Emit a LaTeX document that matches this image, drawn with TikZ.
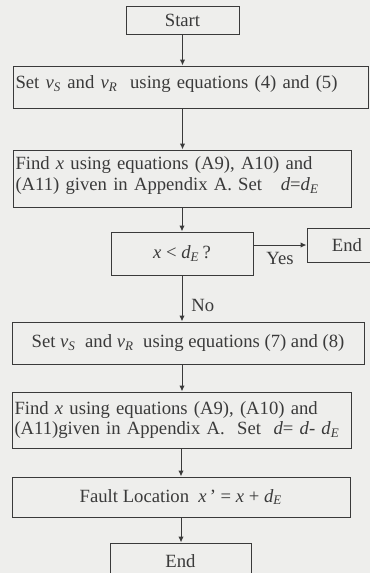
\documentclass[tikz,border=0pt]{standalone}
\usepackage{fontspec}
\setmainfont{Liberation Serif}
\usetikzlibrary{arrows.meta,positioning,calc}
\definecolor{cpaper}{HTML}{EEEEEC}
\definecolor{cink}{HTML}{3A3A3A}
\newcommand{\vsub}[2]{\textit{#1}\textsubscript{\textit{#2}}}
\tikzset{
  box/.style={draw=cink, line width=0.6pt, inner sep=1.5pt, font=\fontsize{11.2}{12.3}\selectfont, text=cink},
  cbox/.style={box, align=center},
  lbox/.style={box, align=left},
  pre/.style={-{Latex[length=3.6pt,width=3.2pt]}, line width=0.6pt, draw=cink},
  lbl/.style={font=\fontsize{11.2}{12.3}\selectfont, text=cink},
}
\begin{document}
\begin{tikzpicture}[x=0.6pt,y=-0.6pt]
\fill[cpaper] (0,0) rectangle (370,573);
\useasboundingbox (0,0) rectangle (370,573);
% first pass
\node[cbox, minimum width=67.8pt, minimum height=16.8pt] (start) at (182.5,20) {Start};
\node[lbox, text width=210pt, minimum height=25.2pt] (setone) at (190.5,87)
  {Set \vsub{v}{S} and \vsub{v}{R}\ \ using equations (4) and (5)\\[-6.5pt]\mbox{}};
\node[lbox, text width=199.8pt, minimum height=34.2pt] (findone) at (182,178.5)
  {Find \textit{x} using equations (A9), A10) and\\(A11) given in Appendix A. Set\ \ \ \textit{d}=\vsub{d}{E}\\[-6.5pt]\mbox{}};
\node[cbox, minimum width=85.2pt, minimum height=25.8pt] (test) at (182,253.5)
  {\textit{x} < \vsub{d}{E}\,?};
\node[cbox, minimum width=48pt, minimum height=20.4pt] (endyes) at (347,245) {End};
% second pass
\node[cbox, minimum width=211.2pt, minimum height=25.2pt] (settwo) at (188,343)
  {Set \vsub{v}{S}\ \ and \vsub{v}{R}\ \ using equations (7) and (8)};
\node[lbox, text width=200.4pt, minimum height=33.6pt] (findtwo) at (181.5,420)
  {Find \textit{x} using equations (A9), (A10) and\\(A11)given in Appendix A.\ \ Set\ \ \textit{d}= \textit{d}- \vsub{d}{E}};
\node[cbox, minimum width=202.8pt, minimum height=24pt] (fault) at (181,497)
  {Fault Location\ \ \textit{x}\,' = \textit{x} + \vsub{d}{E}};
\node[cbox, minimum width=84.6pt, minimum height=21.6pt] (endbot) at (180.5,561) {End};
% arrows
\draw[pre] (start.south) -- (start.south |- setone.north);
\draw[pre] (setone.south -| start) -- (findone.north -| start);
\draw[pre] (findone.south -| test) -- (test.north);
\draw[pre] (test.east |- endyes) -- (endyes.west) node[lbl, midway, below=1pt] {Yes};
\draw[pre] (test.south) -- (settwo.north -| test) node[lbl, pos=0.66, right=2pt] {No};
\draw[pre] (settwo.south -| test) -- (findtwo.north -| test);
\draw[pre] (findtwo.south -| fault) -- (fault.north);
\draw[pre] (fault.south) -- (endbot.north -| fault);
\end{tikzpicture}
\end{document}
